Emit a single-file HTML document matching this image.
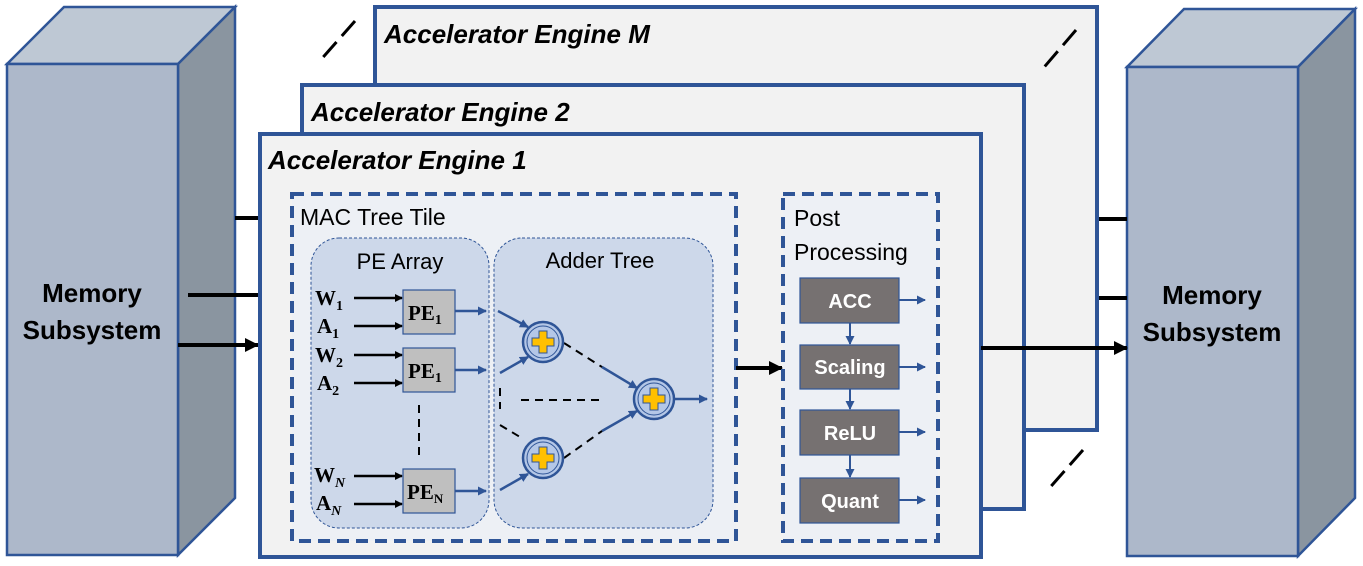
<!DOCTYPE html>
<html><head><meta charset="utf-8"><style>
html,body{margin:0;padding:0;background:#fff;}
svg{display:block;}
text{font-family:"Liberation Sans",sans-serif;}
.t{font-weight:bold;font-style:italic;font-size:26px;fill:#000;}
text.pe{font-family:"Liberation Serif",serif;font-weight:bold;font-size:21px;}
.pb{fill:#fff;font-weight:bold;font-size:20px;text-anchor:middle;}
</style></head><body>
<svg width="1363" height="566" viewBox="0 0 1363 566" xmlns="http://www.w3.org/2000/svg">
<defs>
<marker id="ak" markerWidth="8" markerHeight="8" refX="7" refY="4" orient="auto" markerUnits="userSpaceOnUse"><path d="M0,0 L8,4 L0,8 z" fill="#000"/></marker>
<marker id="akb" markerWidth="14" markerHeight="14" refX="13" refY="7" orient="auto" markerUnits="userSpaceOnUse"><path d="M0,0 L14,7 L0,14 z" fill="#000"/></marker>
<marker id="ab" markerWidth="9" markerHeight="9" refX="8" refY="4.5" orient="auto" markerUnits="userSpaceOnUse"><path d="M0,0 L9,4.5 L0,9 z" fill="#2f5597"/></marker>
</defs>
<polygon points="7,64 64,7 235,7 178,64" fill="#bec8d4" stroke="#2f5597" stroke-width="2.5"/>
<polygon points="178,64 235,7 235,498 178,555" fill="#8a95a0" stroke="#2f5597" stroke-width="2.5"/>
<rect x="7" y="64" width="171" height="491" fill="#adb8ca" stroke="#2f5597" stroke-width="2.5"/>
<text x="92" y="302" text-anchor="middle" font-weight="bold" font-size="26">Memory</text>
<text x="92" y="339" text-anchor="middle" font-weight="bold" font-size="26">Subsystem</text>
<polygon points="1127,67 1184,9 1355,9 1298,67" fill="#bec8d4" stroke="#2f5597" stroke-width="2.5"/>
<polygon points="1298,67 1355,9 1355,498 1298,556" fill="#8a95a0" stroke="#2f5597" stroke-width="2.5"/>
<rect x="1127" y="67" width="171" height="489" fill="#adb8ca" stroke="#2f5597" stroke-width="2.5"/>
<text x="1212" y="304" text-anchor="middle" font-weight="bold" font-size="26">Memory</text>
<text x="1212" y="341" text-anchor="middle" font-weight="bold" font-size="26">Subsystem</text>
<line x1="235" y1="218" x2="262" y2="218" stroke="#000" stroke-width="4"/>
<line x1="188" y1="295" x2="262" y2="295" stroke="#000" stroke-width="4"/>
<line x1="178" y1="345" x2="258" y2="345" stroke="#000" stroke-width="4" marker-end="url(#akb)"/>
<line x1="1095" y1="219" x2="1127" y2="219" stroke="#000" stroke-width="4"/>
<line x1="1024" y1="298" x2="1127" y2="298" stroke="#000" stroke-width="4"/>
<rect x="375" y="7" width="722" height="423" fill="#f2f2f2" stroke="#2f5597" stroke-width="4"/>
<text class="t" x="384" y="43">Accelerator Engine M</text>
<rect x="302" y="85" width="722" height="424" fill="#f2f2f2" stroke="#2f5597" stroke-width="4"/>
<text class="t" x="311" y="121">Accelerator Engine 2</text>
<rect x="260" y="134" width="721" height="423" fill="#f2f2f2" stroke="#2f5597" stroke-width="4"/>
<text class="t" x="268" y="169">Accelerator Engine 1</text>
<line x1="981" y1="348" x2="1127" y2="348" stroke="#000" stroke-width="4" marker-end="url(#akb)"/>
<g stroke="#000" stroke-width="3" stroke-dasharray="20,8">
<line x1="355" y1="21" x2="318" y2="63"/>
<line x1="1076" y1="30" x2="1040" y2="72"/>
<line x1="1083" y1="450" x2="1046" y2="492"/>
</g>
<rect x="292" y="194" width="444" height="347" fill="#edf0f5" stroke="#2f5597" stroke-width="4" stroke-dasharray="12,7"/>
<text x="300" y="225" font-size="23">MAC Tree Tile</text>
<rect x="311" y="238" width="178" height="290" rx="28" fill="#cdd8ea" stroke="#2f5597" stroke-width="1" stroke-dasharray="3,2"/>
<rect x="494" y="238" width="219" height="290" rx="28" fill="#cdd8ea" stroke="#2f5597" stroke-width="1" stroke-dasharray="3,2"/>
<text x="400" y="269" text-anchor="middle" font-size="22">PE Array</text>
<text x="600" y="268" text-anchor="middle" font-size="22">Adder Tree</text>
<text class="pe" x="315" y="305">W<tspan font-size="14" dy="5">1</tspan></text>
<text class="pe" x="317" y="333">A<tspan font-size="14" dy="5">1</tspan></text>
<text class="pe" x="315" y="362">W<tspan font-size="14" dy="5">2</tspan></text>
<text class="pe" x="317" y="390">A<tspan font-size="14" dy="5">2</tspan></text>
<text class="pe" x="314" y="482">W<tspan font-size="14" dy="5" font-style="italic">N</tspan></text>
<text class="pe" x="316" y="510">A<tspan font-size="14" dy="5" font-style="italic">N</tspan></text>
<g stroke="#000" stroke-width="2.5" marker-end="url(#ak)">
<line x1="354" y1="298" x2="402" y2="298"/>
<line x1="354" y1="326" x2="402" y2="326"/>
<line x1="354" y1="355" x2="402" y2="355"/>
<line x1="354" y1="383" x2="402" y2="383"/>
<line x1="354" y1="476" x2="402" y2="476"/>
<line x1="354" y1="504" x2="402" y2="504"/>
</g>
<line x1="419" y1="405" x2="419" y2="456" stroke="#000" stroke-width="2" stroke-dasharray="8,6"/>
<g fill="#bfbfbf" stroke="#2f5597" stroke-width="1.2">
<rect x="403" y="290" width="52" height="44"/>
<rect x="403" y="348" width="52" height="44"/>
<rect x="403" y="469" width="52" height="44"/>
</g>
<text class="pe" x="408" y="320">PE<tspan font-size="14" dy="4">1</tspan></text>
<text class="pe" x="408" y="378">PE<tspan font-size="14" dy="4">1</tspan></text>
<text class="pe" x="407" y="499">PE<tspan font-size="13" dy="4">N</tspan></text>
<g stroke="#2f5597" stroke-width="2.5" marker-end="url(#ab)">
<line x1="455" y1="311" x2="486" y2="311"/>
<line x1="455" y1="370" x2="486" y2="370"/>
<line x1="455" y1="491" x2="486" y2="491"/>
<line x1="498" y1="311" x2="528" y2="327"/>
<line x1="500" y1="373" x2="528" y2="357"/>
<line x1="500" y1="490" x2="528" y2="474"/>
<line x1="602" y1="367" x2="637" y2="388"/>
<line x1="602" y1="431" x2="637" y2="411"/>
<line x1="674" y1="399" x2="707" y2="399"/>
</g>
<g stroke="#000" stroke-width="2" stroke-dasharray="8,6" fill="none">
<line x1="564" y1="343" x2="602" y2="367"/>
<line x1="564" y1="458" x2="602" y2="431"/>
<line x1="521" y1="400" x2="600" y2="400"/>
<line x1="500" y1="388" x2="500" y2="409"/>
<line x1="500" y1="425" x2="520" y2="437"/>
</g>
<g>
<circle cx="543" cy="342" r="20" fill="#b4c7e7" stroke="#2f5597" stroke-width="2.5"/>
<circle cx="543" cy="342" r="16" fill="none" stroke="#2f5597" stroke-width="1"/>
<path d="M539,331h8v7h7v8h-7v7h-8v-7h-7v-8h7z" fill="#ffc000" stroke="#2f5597" stroke-width="1"/>
<circle cx="543" cy="458" r="20" fill="#b4c7e7" stroke="#2f5597" stroke-width="2.5"/>
<circle cx="543" cy="458" r="16" fill="none" stroke="#2f5597" stroke-width="1"/>
<path d="M539,447h8v7h7v8h-7v7h-8v-7h-7v-8h7z" fill="#ffc000" stroke="#2f5597" stroke-width="1"/>
<circle cx="654" cy="399" r="20" fill="#b4c7e7" stroke="#2f5597" stroke-width="2.5"/>
<circle cx="654" cy="399" r="16" fill="none" stroke="#2f5597" stroke-width="1"/>
<path d="M650,388h8v7h7v8h-7v7h-8v-7h-7v-8h7z" fill="#ffc000" stroke="#2f5597" stroke-width="1"/>
</g>
<line x1="736" y1="368" x2="782" y2="368" stroke="#000" stroke-width="4" marker-end="url(#akb)"/>
<rect x="783" y="194" width="155" height="347" fill="#edf0f5" stroke="#2f5597" stroke-width="4" stroke-dasharray="12,7"/>
<text x="794" y="226" font-size="23">Post</text>
<text x="794" y="260" font-size="23">Processing</text>
<g fill="#767171" stroke="#2f5597" stroke-width="1.2">
<rect x="800" y="278" width="99" height="45"/>
<rect x="800" y="345" width="99" height="44"/>
<rect x="800" y="410" width="99" height="45"/>
<rect x="800" y="478" width="99" height="45"/>
</g>
<text class="pb" x="850" y="308">ACC</text>
<text class="pb" x="850" y="374">Scaling</text>
<text class="pb" x="850" y="440">ReLU</text>
<text class="pb" x="850" y="508">Quant</text>
<g stroke="#2f5597" stroke-width="2" marker-end="url(#ab)">
<line x1="899" y1="300" x2="925" y2="300"/>
<line x1="899" y1="367" x2="925" y2="367"/>
<line x1="899" y1="432" x2="925" y2="432"/>
<line x1="899" y1="500" x2="925" y2="500"/>
<line x1="850" y1="323" x2="850" y2="344"/>
<line x1="850" y1="389" x2="850" y2="409"/>
<line x1="850" y1="455" x2="850" y2="477"/>
</g>
</svg>
</body></html>
